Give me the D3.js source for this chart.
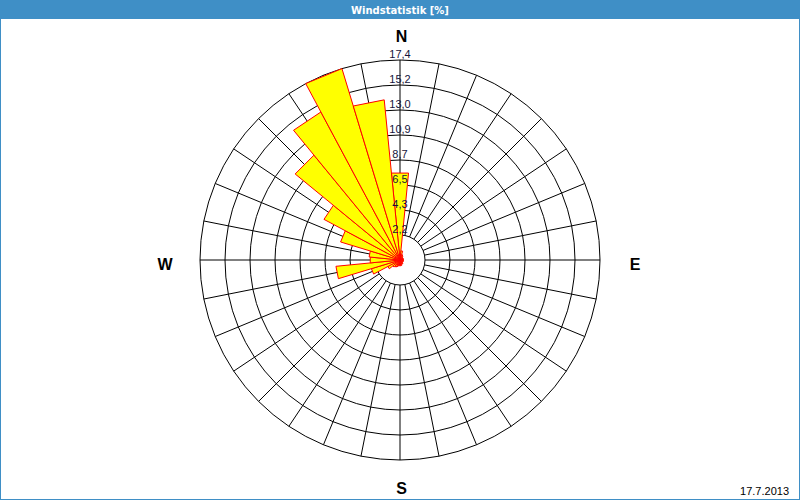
<!DOCTYPE html>
<html>
<head>
<meta charset="utf-8">
<script src="https://cdn.jsdelivr.net/npm/d3@7"></script>
<style>
html,body{margin:0;padding:0;background:#fff;}
svg{display:block;}
</style>
</head>
<body>
<script>
// ---- data ----
const title = "Windstatistik [%]";
const dateLabel = "17.7.2013";
const compassLabels = ["N", "E", "S", "W"];
const compassAngles = [0, 90, 180, 270];
// 32 directions clockwise from north, value in %
const directions = d3.range(32).map(i => i * 11.25);
const values = [7.6, 0.8, 0.5, 0.4, 0.3, 0.3, 0.3, 0.3,
                0.3, 0.3, 0.3, 0.3, 0.3, 0.4, 0.4, 0.5,
                0.5, 0.5, 0.6, 0.7, 0.8, 1.2, 2.6, 5.6,
                2.6, 2.7, 5.4, 7.5, 11.8, 14.6, 17.4, 14.0];
const ringValues = [2.175, 4.35, 6.525, 8.7, 10.875, 13.05, 15.225, 17.4];
const ringLabels = ["2,2", "4,3", "6,5", "8,7", "10,9", "13,0", "15,2", "17,4"];
const maxValue = 17.4;

// ---- layout ----
const W = 800, H = 500;
const cx = 400, cy = 260, R = 200;

const svg = d3.select("body").append("svg").attr("width", W).attr("height", H);

// title bar
svg.append("rect").attr("x", 0).attr("y", 0).attr("width", W).attr("height", 19).attr("fill", "#3f8fc6");
svg.append("text").attr("x", W / 2).attr("y", 14).attr("text-anchor", "middle")
  .attr("font-family", "DejaVu Sans, Verdana, sans-serif").attr("font-weight", "bold")
  .attr("font-size", 10).attr("fill", "#fff").text(title);
// frame
svg.append("rect").attr("x", 0.5).attr("y", 0.5).attr("width", W - 1).attr("height", H - 1)
  .attr("fill", "none").attr("stroke", "#3f8fc6");

const r = d3.scaleLinear().domain([0, maxValue]).range([0, R]);
const ang = d3.scaleLinear().domain([0, 360]).range([0, 2 * Math.PI]);
const holeR = r(ringValues[0]);

const g = svg.append("g").attr("transform", `translate(${cx},${cy})`);

// grid rings
g.selectAll("circle.ring").data(ringValues).join("circle")
  .attr("class", "ring").attr("r", d => r(d))
  .attr("fill", "none").attr("stroke", "#000").attr("stroke-width", 1);

// spokes
g.selectAll("line.spoke").data(directions).join("line")
  .attr("class", "spoke")
  .attr("x1", d => holeR * Math.sin(ang(d)))
  .attr("y1", d => -holeR * Math.cos(ang(d)))
  .attr("x2", d => R * Math.sin(ang(d)))
  .attr("y2", d => -R * Math.cos(ang(d)))
  .attr("stroke", "#000").attr("stroke-width", 1);

// bars (triangular wedges)
const half = 11.25 / 2;
g.selectAll("path.bar").data(values).join("path")
  .attr("class", "bar")
  .attr("d", (v, i) => {
    const a0 = ang(directions[i] - half), a1 = ang(directions[i] + half);
    const rr = r(v);
    return `M0,0L${rr * Math.sin(a0)},${-rr * Math.cos(a0)}L${rr * Math.sin(a1)},${-rr * Math.cos(a1)}Z`;
  })
  .attr("fill", "#ffff00").attr("stroke", "#ff0000").attr("stroke-width", 1)
  .attr("stroke-linejoin", "miter");

// ring labels
g.selectAll("text.rl").data(ringValues).join("text")
  .attr("class", "rl").attr("x", 0).attr("y", d => -r(d) - 2)
  .attr("text-anchor", "middle")
  .attr("font-family", "Liberation Sans, Arial, sans-serif").attr("font-size", 11)
  .attr("fill", "#14143c")
  .text((d, i) => ringLabels[i]);

// compass labels
const cr = R + 25;
g.selectAll("text.cmp").data(compassLabels).join("text")
  .attr("class", "cmp")
  .attr("x", (d, i) => {
    const a = compassAngles[i];
    return (a % 180 ? cr + 10 : 0) * Math.sin(ang(a)) + (a % 180 ? 0 : 1.5);
  })
  .attr("y", (d, i) => {
    const a = compassAngles[i];
    return a % 180 ? 4 : -(cr - (a === 0 ? 1 : -3)) * Math.cos(ang(a));
  })
  .attr("dy", "0.36em")
  .attr("text-anchor", "middle")
  .attr("font-family", "Liberation Sans, Arial, sans-serif").attr("font-weight", "bold")
  .attr("font-size", 16).attr("fill", "#000")
  .text(d => d);

// date
svg.append("text").attr("x", 789).attr("y", 495).attr("text-anchor", "end")
  .attr("font-family", "Liberation Sans, Arial, sans-serif").attr("font-size", 11)
  .attr("fill", "#000").text(dateLabel);
</script>
</body>
</html>
